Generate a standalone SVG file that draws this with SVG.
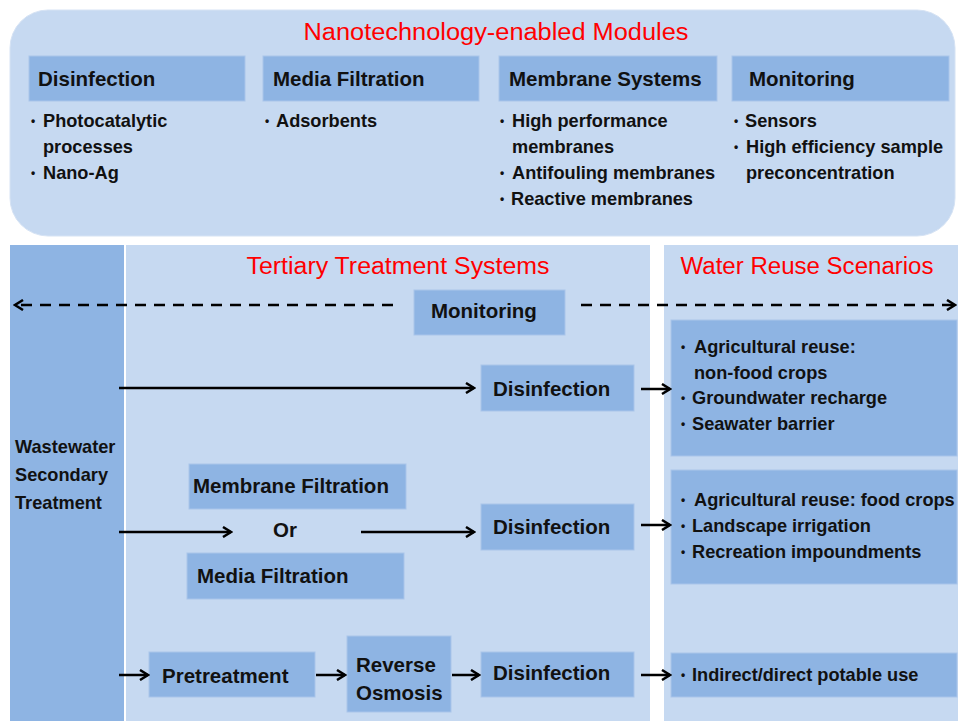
<svg xmlns="http://www.w3.org/2000/svg" width="958" height="721" viewBox="0 0 958 721">
<defs>
<style>
.panel{fill:#C6D9F1;stroke:#D6E3F4;stroke-width:1}
.box{fill:#8EB4E3;stroke:#A9C5EA;stroke-width:1}
.red{font-family:"Liberation Sans",Arial,sans-serif;font-size:23px;fill:#FF0000}
.hd{font-family:"Liberation Sans",Arial,sans-serif;font-size:20.5px;font-weight:bold;fill:#111}
.bt{font-family:"Liberation Sans",Arial,sans-serif;font-size:18.2px;font-weight:bold;fill:#111}
.bl{font-size:12px}
.ln{stroke:#000;stroke-width:2.5;fill:none}
.dash{stroke:#000;stroke-width:2.5;fill:none;stroke-dasharray:11 8}
</style>
<marker id="ah" markerWidth="12" markerHeight="12" viewBox="0 0 12 12" refX="10" refY="6" orient="auto" markerUnits="userSpaceOnUse">
<path d="M2,1 L10,6 L2,11" fill="none" stroke="#000" stroke-width="2.5"/>
</marker>
</defs>
<rect width="958" height="721" fill="#fff"/>

<g id="modules-panel">
<rect class="panel" x="10" y="10" width="945" height="226" rx="38"/>
<text class="red" x="496" y="40" text-anchor="middle" textLength="385" lengthAdjust="spacingAndGlyphs">Nanotechnology-enabled Modules</text>
</g>
<g id="mod-disinfection">
<rect class="box" x="29" y="56" width="216" height="45"/>
<text class="hd" x="38" y="86">Disinfection</text>
<text class="bt"><tspan class="bl" x="31" y="125">•</tspan><tspan x="43" y="127">Photocatalytic</tspan><tspan x="43" y="153">processes</tspan><tspan class="bl" x="31" y="177">•</tspan><tspan x="43" y="179">Nano-Ag</tspan></text>
</g>
<g id="mod-media">
<rect class="box" x="263" y="56" width="216" height="45"/>
<text class="hd" x="273" y="86">Media Filtration</text>
<text class="bt"><tspan class="bl" x="265" y="125">•</tspan><tspan x="276" y="127">Adsorbents</tspan></text>
</g>
<g id="mod-membrane">
<rect class="box" x="499" y="56" width="218" height="45"/>
<text class="hd" x="509" y="86">Membrane Systems</text>
<text class="bt"><tspan class="bl" x="500" y="125">•</tspan><tspan x="512" y="127">High performance</tspan><tspan x="512" y="153">membranes</tspan><tspan class="bl" x="500" y="177">•</tspan><tspan x="512" y="179">Antifouling membranes</tspan><tspan class="bl" x="500" y="203">•</tspan><tspan x="511" y="205">Reactive membranes</tspan></text>
</g>
<g id="mod-monitoring">
<rect class="box" x="732" y="56" width="217" height="45"/>
<text class="hd" x="749" y="86">Monitoring</text>
<text class="bt"><tspan class="bl" x="734" y="125">•</tspan><tspan x="745" y="127">Sensors</tspan><tspan class="bl" x="734" y="151">•</tspan><tspan x="746" y="153">High efficiency sample</tspan><tspan x="746" y="179">preconcentration</tspan></text>
</g>

<g id="wastewater">
<rect x="10" y="245" width="114" height="476" fill="#8EB4E3"/>
<text class="bt" font-size="19.5"><tspan x="15" y="453">Wastewater</tspan><tspan x="15" y="481">Secondary</tspan><tspan x="15" y="509">Treatment</tspan></text>
</g>
<g id="tertiary-panel">
<rect x="126" y="245" width="524" height="476" fill="#C6D9F1"/>
<text class="red" x="398" y="274" text-anchor="middle" textLength="303" lengthAdjust="spacingAndGlyphs">Tertiary Treatment Systems</text>
</g>
<g id="reuse-panel">
<rect x="664" y="245" width="294" height="476" fill="#C6D9F1"/>
<text class="red" x="807" y="274" text-anchor="middle" textLength="253" lengthAdjust="spacingAndGlyphs">Water Reuse Scenarios</text>
</g>

<g id="monitoring">
<rect class="box" x="414" y="290" width="151" height="45"/>
<text class="hd" x="431" y="318">Monitoring</text>
</g>
<g id="disinfection-1">
<rect class="box" x="481" y="365" width="153" height="46"/>
<text class="hd" x="493" y="396">Disinfection</text>
</g>
<g id="reuse-1">
<rect class="box" x="671" y="320" width="286" height="136"/>
<text class="bt"><tspan class="bl" x="681" y="351">•</tspan><tspan x="694" y="353">Agricultural reuse:</tspan><tspan x="694" y="379">non-food crops</tspan><tspan class="bl" x="681" y="402">•</tspan><tspan x="692" y="404">Groundwater recharge</tspan><tspan class="bl" x="681" y="428">•</tspan><tspan x="692" y="430">Seawater barrier</tspan></text>
</g>
<g id="membrane-filtration">
<rect class="box" x="189" y="464" width="217" height="45"/>
<text class="hd" x="193" y="493">Membrane Filtration</text>
</g>
<g id="or-label">
<text class="hd" x="285" y="537" text-anchor="middle">Or</text>
</g>
<g id="media-filtration">
<rect class="box" x="187" y="553" width="217" height="46"/>
<text class="hd" x="197" y="583">Media Filtration</text>
</g>
<g id="disinfection-2">
<rect class="box" x="481" y="504" width="153" height="46"/>
<text class="hd" x="493" y="534">Disinfection</text>
</g>
<g id="reuse-2">
<rect class="box" x="671" y="470" width="286" height="114"/>
<text class="bt"><tspan class="bl" x="681" y="504">•</tspan><tspan x="694" y="506">Agricultural reuse: food crops</tspan><tspan class="bl" x="681" y="530">•</tspan><tspan x="692" y="532">Landscape irrigation</tspan><tspan class="bl" x="681" y="556">•</tspan><tspan x="692" y="558">Recreation impoundments</tspan></text>
</g>
<g id="pretreatment">
<rect class="box" x="149" y="652" width="166" height="45"/>
<text class="hd" x="162" y="683">Pretreatment</text>
</g>
<g id="reverse-osmosis">
<rect class="box" x="347" y="636" width="104" height="76"/>
<text class="hd"><tspan x="356" y="672">Reverse</tspan><tspan x="356" y="700">Osmosis</tspan></text>
</g>
<g id="disinfection-3">
<rect class="box" x="481" y="652" width="153" height="45"/>
<text class="hd" x="493" y="680">Disinfection</text>
</g>
<g id="reuse-3">
<rect class="box" x="671" y="653" width="286" height="44"/>
<text class="bt"><tspan class="bl" x="681" y="679">•</tspan><tspan x="692" y="681">Indirect/direct potable use</tspan></text>
</g>

<g id="connectors">
<line class="dash" x1="393" y1="305" x2="15" y2="305" marker-end="url(#ah)"/>
<line class="dash" x1="581" y1="305" x2="955" y2="305" marker-end="url(#ah)"/>
<line class="ln" x1="119" y1="388" x2="474" y2="388" marker-end="url(#ah)"/>
<line class="ln" x1="641" y1="389" x2="670" y2="389" marker-end="url(#ah)"/>
<line class="ln" x1="119" y1="532" x2="231" y2="532" marker-end="url(#ah)"/>
<line class="ln" x1="361" y1="532" x2="474" y2="532" marker-end="url(#ah)"/>
<line class="ln" x1="641" y1="525" x2="670" y2="525" marker-end="url(#ah)"/>
<line class="ln" x1="119" y1="675" x2="148" y2="675" marker-end="url(#ah)"/>
<line class="ln" x1="316" y1="675" x2="345" y2="675" marker-end="url(#ah)"/>
<line class="ln" x1="452" y1="675" x2="479" y2="675" marker-end="url(#ah)"/>
<line class="ln" x1="641" y1="675" x2="670" y2="675" marker-end="url(#ah)"/>
</g>
</svg>
